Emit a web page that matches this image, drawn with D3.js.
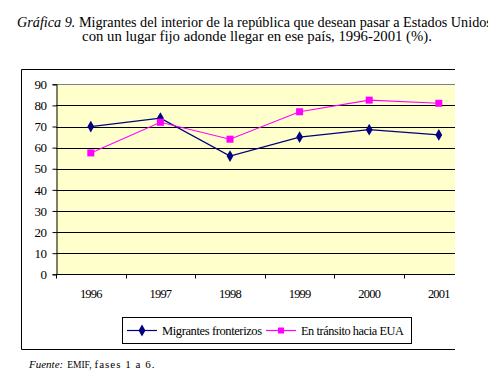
<!DOCTYPE html>
<html>
<head>
<meta charset="utf-8">
<script src="https://cdn.jsdelivr.net/npm/d3@7"></script>
</head>
<body style="margin:0; background:#fff">
<div id="chart"></div>
<script>
//// data
var years = ["1996", "1997", "1998", "1999", "2000", "2001"];
var fronterizos = [70, 74, 56, 65, 68.5, 66];
var transito = [57.5, 72, 64, 77, 82.5, 81];
var yTicks = [0, 10, 20, 30, 40, 50, 60, 70, 80, 90];
var seriesNames = ["Migrantes fronterizos", "En tránsito hacia EUA"];

var SERIF = "'Liberation Serif'";

// shrink/grow font so a text spans the width seen in the picture
function fit(sel, target) {
  var fs = parseFloat(sel.style("font-size"));
  var len = sel.node().getComputedTextLength();
  sel.style("font-size", (fs * target / len).toFixed(2) + "px");
}

//// chart
var W = 488, H = 384;
var plot = {left: 56, top: 84.3, bottom: 274.3, band: 69.6};

var svg = d3.select("#chart")
  .append("svg")
    .attr("width", W)
    .attr("height", H);

// title
var t1 = svg.append("text")
  .attr("x", 17).attr("y", 26.7)
  .style("font-family", SERIF)
  .style("font-size", "14px");
t1.append("tspan").style("font-style", "italic").text("Gráfica 9.");
t1.append("tspan").text(" Migrantes del interior de la república que desean pasar a Estados Unidos");
fit(t1, 475);

var t2 = svg.append("text")
  .attr("x", 257).attr("y", 40.7)
  .attr("text-anchor", "middle")
  .style("font-family", SERIF)
  .style("font-size", "14px")
  .text("con un lugar fijo adonde llegar en ese país, 1996-2001 (%).");
fit(t2, 350);

// clip (page crops the chart on the right)
svg.append("clipPath").attr("id", "crop")
  .append("rect").attr("x", 0).attr("y", 0).attr("width", 455).attr("height", H);

var g = svg.append("g").attr("clip-path", "url(#crop)");

// outer frame: top, left, bottom
g.append("path")
  .attr("d", "M455,69.5 H21.5 V349.5 H455")
  .attr("fill", "none")
  .attr("stroke", "#000")
  .attr("stroke-width", 1);

var x = d3.scaleBand()
  .domain(years)
  .range([plot.left, plot.left + plot.band * years.length]);

var y = d3.scaleLinear()
  .domain([0, 90])
  .range([plot.bottom, plot.top]);

// plot area
g.append("rect")
  .attr("x", plot.left)
  .attr("y", y(90))
  .attr("width", x.range()[1] - plot.left)
  .attr("height", y(0) - y(90))
  .attr("fill", "#FFFFCC");

// gridlines
g.selectAll(".grid")
    .data(yTicks.filter(function(d) { return d > 0 && d < 90; }))
  .enter().append("line")
    .attr("x1", plot.left).attr("x2", x.range()[1])
    .attr("y1", function(d) { return Math.round(y(d)) + 0.5; })
    .attr("y2", function(d) { return Math.round(y(d)) + 0.5; })
    .attr("stroke", "#000");

// top border of plot
g.append("line")
  .attr("x1", plot.left).attr("x2", x.range()[1])
  .attr("y1", Math.round(y(90)) + 0.5).attr("y2", Math.round(y(90)) + 0.5)
  .attr("stroke", "#808080");

// y axis
var yAxis = g.append("g")
  .attr("transform", "translate(" + (plot.left + 0.5) + ",0)")
  .call(d3.axisLeft(y).tickValues(yTicks).tickSize(4).tickPadding(6));
yAxis.selectAll("text")
  .style("font-family", SERIF)
  .style("font-size", "13px")
  .style("letter-spacing", "-0.5px")
  .attr("fill", "#000");
yAxis.select(".domain").attr("stroke", "#000");

// x axis
var xAxis = g.append("g")
  .attr("transform", "translate(0," + (Math.round(plot.bottom) + 0.5) + ")");
xAxis.append("line")
  .attr("x1", plot.left).attr("x2", x.range()[1])
  .attr("stroke", "#000");
xAxis.selectAll(".xtick")
    .data(years.concat(["end"]))
  .enter().append("line")
    .attr("x1", function(d, i) { return Math.round(plot.left + i * x.bandwidth()) + 0.5; })
    .attr("x2", function(d, i) { return Math.round(plot.left + i * x.bandwidth()) + 0.5; })
    .attr("y1", 0).attr("y2", 4)
    .attr("stroke", "#000");
xAxis.selectAll(".xlabel")
    .data(years)
  .enter().append("text")
    .attr("x", function(d) { return x(d) + x.bandwidth() / 2; })
    .attr("y", 23)
    .attr("text-anchor", "middle")
    .style("font-family", SERIF)
    .style("font-size", "12.5px")
    .style("letter-spacing", "-0.8px")
    .text(function(d) { return d; });

// lines
var line = d3.line()
  .x(function(d, i) { return x(years[i]) + x.bandwidth() / 2; })
  .y(function(d) { return y(d); });

g.append("path")
  .datum(fronterizos)
  .attr("d", line)
  .attr("fill", "none")
  .attr("stroke", "#000080")
  .attr("stroke-width", 1.3);

g.append("path")
  .datum(transito)
  .attr("d", line)
  .attr("fill", "none")
  .attr("stroke", "#FF00FF")
  .attr("stroke-width", 1.1);

// markers
var diamond = d3.symbol().type(d3.symbolDiamond).size(40);
g.selectAll(".dot1")
    .data(fronterizos)
  .enter().append("path")
    .attr("d", diamond)
    .attr("transform", function(d, i) {
      return "translate(" + (x(years[i]) + x.bandwidth() / 2) + "," + y(d) + ")";
    })
    .attr("fill", "#000080");

g.selectAll(".dot2")
    .data(transito)
  .enter().append("rect")
    .attr("x", function(d, i) { return x(years[i]) + x.bandwidth() / 2 - 3.5; })
    .attr("y", function(d) { return y(d) - 3.5; })
    .attr("width", 7).attr("height", 7)
    .attr("fill", "#FF00FF");

// legend
var lg = svg.append("g");
lg.append("rect")
  .attr("x", 122.5).attr("y", 317.5)
  .attr("width", 289).attr("height", 26)
  .attr("fill", "#fff")
  .attr("stroke", "#000");

var legendItems = [
  {name: seriesNames[0], color: "#000080", x0: 127, tx: 162, w: 100, shape: "diamond"},
  {name: seriesNames[1], color: "#FF00FF", x0: 266, tx: 301, w: 103, shape: "square"}
];
legendItems.forEach(function(it) {
  lg.append("line")
    .attr("x1", it.x0).attr("x2", it.x0 + 30)
    .attr("y1", 330.5).attr("y2", 330.5)
    .attr("stroke", it.color)
    .attr("stroke-width", 1.2);
  if (it.shape === "diamond") {
    lg.append("path")
      .attr("d", diamond)
      .attr("transform", "translate(" + (it.x0 + 15) + ",330.5)")
      .attr("fill", it.color);
  } else {
    lg.append("rect")
      .attr("x", it.x0 + 12).attr("y", 327.5)
      .attr("width", 6).attr("height", 6)
      .attr("fill", it.color);
  }
  var lt = lg.append("text")
    .attr("x", it.tx).attr("y", 334.5)
    .style("font-family", SERIF)
    .style("font-size", "13px")
    .style("letter-spacing", "-0.4px")
    .text(it.name);
  fit(lt, it.w);
});

// source
var src = svg.append("text")
  .attr("x", 29).attr("y", 368)
  .style("font-family", SERIF)
  .style("font-size", "11px");
src.append("tspan").style("font-style", "italic").text("Fuente:");
src.append("tspan").attr("dx", 4).style("font-size", "9.5px").text("EMIF,");
src.append("tspan").attr("dx", 3).style("letter-spacing", "1px").text("fases 1 a 6.");
</script>
</body>
</html>
